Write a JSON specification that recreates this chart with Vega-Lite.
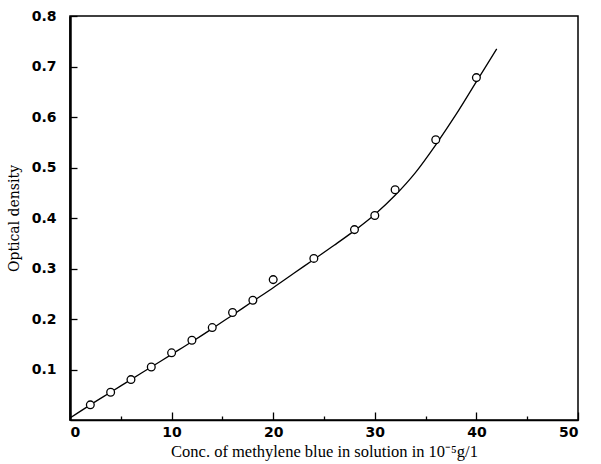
{
  "$schema": "https://vega.github.io/schema/vega-lite/v6.json",
  "width": 508,
  "height": 404,
  "autosize": "none",
  "padding": {"left": 70, "top": 16, "right": 23, "bottom": 44},
  "background": "white",
  "config": {
    "view": {"stroke": "black", "strokeWidth": 1.5},
    "axis": {"grid": false, "ticks": true, "domainColor": "black", "tickColor": "black", "labelColor": "black", "titleColor": "black", "zindex": 1}
  },
  "datasets": {
    "points": [
      {"conc": 2, "od": 0.03},
      {"conc": 4, "od": 0.055},
      {"conc": 6, "od": 0.08},
      {"conc": 8, "od": 0.105},
      {"conc": 10, "od": 0.133},
      {"conc": 12, "od": 0.158},
      {"conc": 14, "od": 0.183},
      {"conc": 16, "od": 0.213},
      {"conc": 18, "od": 0.237},
      {"conc": 20, "od": 0.278},
      {"conc": 24, "od": 0.32},
      {"conc": 28, "od": 0.377},
      {"conc": 30, "od": 0.405},
      {"conc": 32, "od": 0.456},
      {"conc": 36, "od": 0.555},
      {"conc": 40, "od": 0.678}
    ],
    "curve": [
      {"conc": 0, "od": 0.004},
      {"conc": 2, "od": 0.03},
      {"conc": 4, "od": 0.055},
      {"conc": 6, "od": 0.08},
      {"conc": 8, "od": 0.105},
      {"conc": 10, "od": 0.13},
      {"conc": 12, "od": 0.155},
      {"conc": 14, "od": 0.181},
      {"conc": 16, "od": 0.208},
      {"conc": 18, "od": 0.235},
      {"conc": 20, "od": 0.262},
      {"conc": 22, "od": 0.29},
      {"conc": 24, "od": 0.318},
      {"conc": 26, "od": 0.346},
      {"conc": 28, "od": 0.375},
      {"conc": 30, "od": 0.407},
      {"conc": 32, "od": 0.445},
      {"conc": 34, "od": 0.49},
      {"conc": 36, "od": 0.545},
      {"conc": 38, "od": 0.605},
      {"conc": 40, "od": 0.67},
      {"conc": 42, "od": 0.735}
    ]
  },
  "layer": [
    {
      "data": {"name": "curve"},
      "mark": {"type": "line", "color": "black", "strokeWidth": 1.3, "interpolate": "monotone", "clip": true},
      "encoding": {
        "x": {"field": "conc", "type": "quantitative", "scale": {"domain": [0, 50], "nice": false},
          "axis": {
            "title": "Conc. of methylene blue in solution in 10⁻⁵g/1",
            "titleFont": "Liberation Serif", "titleFontSize": 16.5, "titleFontWeight": "normal", "titlePadding": 4,
            "values": [0, 5, 10, 15, 20, 25, 30, 35, 40, 45, 50],
            "labelExpr": "datum.value % 10 === 0 ? datum.label : ''",
            "labelFont": "DejaVu Sans", "labelFontSize": 14, "labelFontWeight": 600, "labelPadding": 13,
            "tickSize": {"condition": {"test": "datum.value % 10 === 0", "value": -8}, "value": -4},
            "tickWidth": 1.3, "domainWidth": 1.5
          }
        },
        "y": {"field": "od", "type": "quantitative", "scale": {"domain": [0, 0.8], "nice": false},
          "axis": {
            "title": "Optical density",
            "titleFont": "DejaVu Serif", "titleFontSize": 14, "titleFontWeight": "normal", "titlePadding": 10,
            "values": [0.1, 0.2, 0.3, 0.4, 0.5, 0.6, 0.7, 0.8],
            "format": ".1f",
            "labelFont": "DejaVu Sans", "labelFontSize": 14, "labelFontWeight": 600, "labelPadding": 21,
            "tickSize": -7, "tickWidth": 1.3, "domainWidth": 2.5
          }
        }
      }
    },
    {
      "data": {"name": "points"},
      "mark": {"type": "point", "shape": "circle", "filled": false, "fill": "white", "fillOpacity": 1, "stroke": "black", "strokeWidth": 1.3, "size": 60, "opacity": 1},
      "encoding": {
        "x": {"field": "conc", "type": "quantitative"},
        "y": {"field": "od", "type": "quantitative"}
      }
    }
  ]
}
